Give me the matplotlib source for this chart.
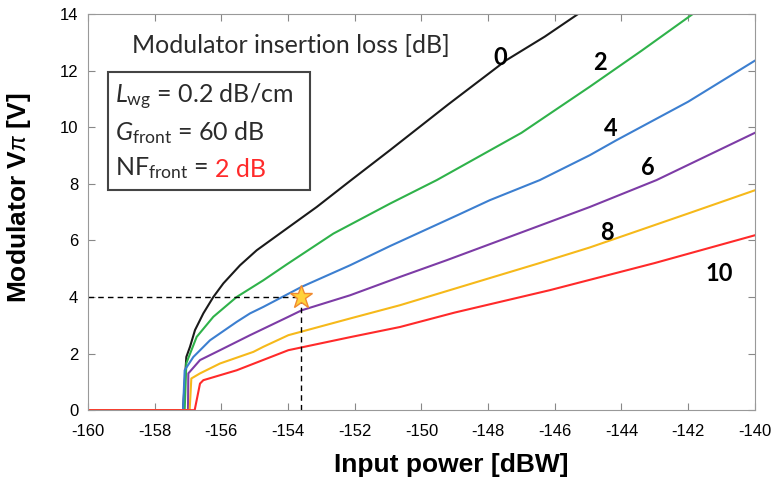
import matplotlib
matplotlib.use("Agg")
import matplotlib.pyplot as plt
from matplotlib.patches import Rectangle

# values: Vpi [V] vs input power [dBW], one curve per insertion loss
x_0 = [-160, -157.15, -157.05, -156.94, -156.79, -156.54, -156.24, -155.94, -155.44, -154.94, -154.0,
       -153.14, -152.14, -150.94, -149.2, -147.45, -146.3, -145.3]
y_0 = [0, 0, 1.88, 2.24, 2.83, 3.42, 4.0, 4.48, 5.12, 5.65, 6.45, 7.18, 8.1, 9.19, 10.8, 12.37, 13.2, 14.0]
x_2 = [-160, -157.1, -157.05, -156.74, -156.24, -155.54, -154.74, -154.04, -152.64, -150.94, -149.54,
       -147.0, -144.95, -143.4, -141.86]
y_2 = [0, 0, 1.66, 2.59, 3.3, 4.0, 4.59, 5.15, 6.24, 7.3, 8.13, 9.8, 11.43, 12.7, 14.0]
x_4 = [-160, -157.15, -157.1, -156.84, -156.34, -155.54, -155.14, -154.74, -153.59, -152.14,
       -150.94, -148.9, -147.95, -146.45, -144.95, -144.15, -142.0, -140.0]
y_4 = [0, 0, 1.41, 1.88, 2.47, 3.12, 3.42, 3.65, 4.36, 5.12, 5.8, 6.9, 7.42, 8.13, 9.01, 9.54,
       10.9, 12.35]
x_6 = [-160, -157.0, -156.99, -156.64, -156.04, -155.14, -153.99, -153.59, -152.14, -150.64, -149.24,
       -146.5, -144.95, -142.95, -140.0]
y_6 = [0, 0, 1.3, 1.77, 2.12, 2.65, 3.3, 3.53, 4.06, 4.71, 5.3, 6.5, 7.18, 8.13, 9.8]
x_8 = [-160, -156.95, -156.9, -156.64, -156.04, -155.04, -154.74, -153.99, -152.14, -150.64, -148.0,
       -146.45, -144.95, -142.0, -140.0]
y_8 = [0, 0, 1.12, 1.3, 1.65, 2.06, 2.24, 2.65, 3.24, 3.71, 4.65, 5.2, 5.75, 6.95, 7.77]
x_10 = [-160, -156.8, -156.64, -156.54, -155.54, -153.99, -152.14, -150.64, -149.0, -146.15, -143.0, -140.0]
y_10 = [0, 0, 0.94, 1.06, 1.41, 2.12, 2.58, 2.94, 3.45, 4.24, 5.2, 6.18]

curves = [(x_0, y_0), (x_2, y_2), (x_4, y_4), (x_6, y_6), (x_8, y_8), (x_10, y_10)]
colors = ["#1a1a1a", "#2fb24a", "#3c7fd0", "#7d3ca6", "#f6b91a", "#ff2a2a"]

loss_labels = ["0", "2", "4", "6", "8", "10"]
label_pos = [(-147.65, 12.47), (-144.65, 12.3), (-144.32, 9.96), (-143.2, 8.59), (-144.44, 6.29), (-141.08, 4.84)]

op_x, op_y = -153.6, 4.0

plt.rcParams["axes.unicode_minus"] = False
plt.rcParams["mathtext.fontset"] = "custom"
plt.rcParams["mathtext.rm"] = "Lato"
plt.rcParams["mathtext.it"] = "Lato:italic"

fig = plt.figure(figsize=(7.75, 4.82), dpi=100)
ax = fig.add_axes([0.1135, 0.149, 0.8605, 0.822])

for (xs, ys), c in zip(curves, colors):
    ax.plot(xs, ys, color=c, lw=1.5)

# operating point
ax.plot([-160, op_x], [op_y, op_y], "k--", lw=1.0, dashes=(4, 3))
ax.plot([op_x, op_x], [0, op_y], "k--", lw=1.0, dashes=(4, 3))
ax.plot([op_x], [op_y], marker="*", ms=17, mfc="#ffd23a", mec="#f08a30", mew=1.0, zorder=5)

for lab, (lx, ly) in zip(loss_labels, label_pos):
    ax.text(lx, ly, lab, fontsize=17, fontweight="bold", family="Lato", ha="center", va="center")

ax.text(-158.68, 12.9, "Modulator insertion loss [dB]", fontsize=18, family="Lato",
        color="#2b2b2b", va="center")

ax.add_patch(Rectangle((0.030, 0.556), 0.303, 0.298, transform=ax.transAxes,
                       fill=False, ec="#444444", lw=1.5, zorder=6))
tf = dict(fontsize=18, family="Lato", color="#2b2b2b", transform=ax.transAxes, va="baseline")
ax.text(0.040, 0.775, r"$L_{\rm wg}$ = 0.2 dB/cm", **tf)
ax.text(0.040, 0.682, r"$G_{\rm front}$ = 60 dB", **tf)
t = ax.text(0.040, 0.593, r"NF$_{\rm front}$ =", **tf)
ax.annotate("2 dB", xy=(1, 0), xycoords=t, xytext=(5, 0), textcoords="offset points",
            fontsize=18, family="Lato", color="#ff2a2a", va="bottom")

ax.set_xlim(-160, -140)
ax.set_ylim(0, 14)
ax.set_xticks(range(-160, -139, 2))
ax.set_yticks(range(0, 15, 2))
ax.tick_params(direction="in", top=True, right=True, length=5, color="#888888",
               labelsize=12, pad=7)
ax.tick_params(axis="x", pad=10)
for lab in ax.get_xticklabels() + ax.get_yticklabels():
    lab.set_family("Liberation Sans")
for s in ax.spines.values():
    s.set_color("#999999")

ax.set_xlabel("Input power [dBW]", fontsize=19, fontweight="bold", family="Liberation Sans")
ax.xaxis.set_label_coords(0.545, -0.108)
ax.set_ylabel(r"Modulator V$\pi$ [V]", fontsize=19, fontweight="bold", family="Liberation Sans")
ax.yaxis.set_label_coords(-0.083, 0.535)

fig.savefig("out.png", dpi=100)
